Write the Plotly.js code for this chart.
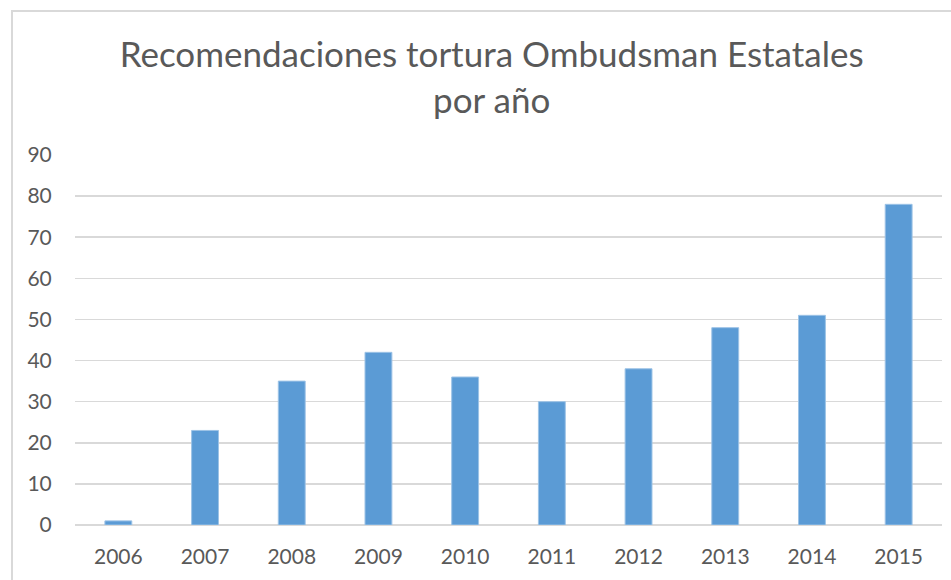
<!DOCTYPE html>
<html>
<head>
<meta charset="utf-8">
<script src="https://cdn.plot.ly/plotly-3.0.1.min.js"></script>
<style>
html,body{margin:0;padding:0;background:#fff;overflow:hidden;}
#frame{position:absolute;left:11px;top:10px;width:1000px;height:1000px;border:2px solid #d9d9d9;box-sizing:border-box;}
#chart{position:absolute;left:0;top:0;width:951px;height:580px;}
</style>
</head>
<body>
<div id="frame"></div>
<div id="chart"></div>
<script>
const years = ["2006","2007","2008","2009","2010","2011","2012","2013","2014","2015"];
const recomendaciones = [1, 23, 35, 42, 36, 30, 38, 48, 51, 78];
const yTicks = [0,10,20,30,40,50,60,70,80,90];
const titleText = "Recomendaciones tortura Ombudsman Estatales<br>por año";

const font = "Lato, 'Open Sans', sans-serif";
Plotly.newPlot("chart", [{
  type: "bar",
  x: years,
  y: recomendaciones,
  marker: {color: "#5b9bd5", line: {color: "#9dc3e6", width: 1}},
  hoverinfo: "x+y"
}], {
  width: 951, height: 580,
  paper_bgcolor: "rgba(0,0,0,0)",
  plot_bgcolor: "rgba(0,0,0,0)",
  margin: {l: 75, r: 9, t: 155, b: 55},
  bargap: 0.69,
  showlegend: false,
  title: {
    text: titleText,
    font: {family: font, size: 35, color: "#595959"},
    x: 0.517, xanchor: "center",
    y: 0.884, yanchor: "middle"
  },
  xaxis: {
    type: "category",
    tickfont: {family: font, size: 21, color: "#595959"},
    showgrid: false,
    showline: false,
    zeroline: false,
    ticks: "outside",
    ticklen: 13,
    tickcolor: "rgba(0,0,0,0)",
    automargin: false
  },
  yaxis: {
    range: [0, 90],
    tickvals: yTicks,
    ticktext: yTicks.map(String),
    tickfont: {family: font, size: 21, color: "#595959"},
    showgrid: true,
    gridcolor: "#d9d9d9",
    gridwidth: 1.5,
    zeroline: true,
    zerolinecolor: "#d9d9d9",
    zerolinewidth: 1.5,
    showline: false,
    ticks: "outside",
    ticklen: 18,
    tickcolor: "rgba(0,0,0,0)",
    automargin: false
  }
}, {displayModeBar: false, staticPlot: true});
</script>
</body>
</html>
